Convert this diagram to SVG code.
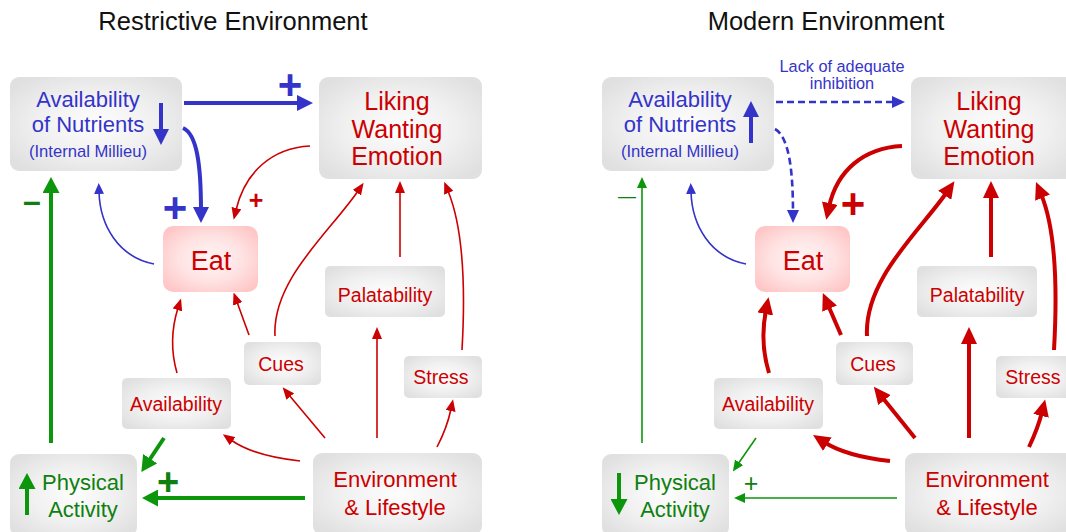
<svg xmlns="http://www.w3.org/2000/svg" width="1066" height="532" viewBox="0 0 1066 532">
<style>
  text { font-family: "Liberation Sans", Arial, sans-serif; text-anchor: middle; }
  .title { font-size: 25.5px; fill: #111; }
  .box { fill: url(#gGray); }
  .eatbox { fill: url(#gPink); }
  .blue { fill: #3434c8; }
  .red { fill: #cc0000; }
  .green { fill: #0f800f; }
  .big { font-size: 22px; }
  .lik { font-size: 25px; }
  .sm { font-size: 19.5px; }
  .tiny { font-size: 16.6px; }
  .cb { fill: none; stroke: #3434c8; }
  .cr { fill: none; stroke: #cc0000; }
  .cg { fill: none; stroke: #0c960c; }
  .thick { stroke-width: 4; }
  .thin { stroke-width: 1.6; }
  .dash { stroke-width: 2.6; stroke-dasharray: 7 4; }
</style>
<defs>
  <radialGradient id="gGray" cx="50%" cy="50%" r="62%">
    <stop offset="0%" stop-color="#fdfdfd"/>
    <stop offset="55%" stop-color="#f0f0f0"/>
    <stop offset="100%" stop-color="#e0e0e0"/>
  </radialGradient>
  <radialGradient id="gPink" cx="50%" cy="50%" r="62%">
    <stop offset="0%" stop-color="#fff6f6"/>
    <stop offset="55%" stop-color="#ffe2e2"/>
    <stop offset="100%" stop-color="#ffc6c6"/>
  </radialGradient>
  <marker id="mBB" markerUnits="userSpaceOnUse" markerWidth="16" markerHeight="16" refX="4" refY="8" orient="auto"><path d="M0,0 L16,8 L0,16 z" fill="#3434c8"/></marker>
  <marker id="mBS" markerUnits="userSpaceOnUse" markerWidth="11" markerHeight="10" refX="2" refY="5" orient="auto"><path d="M0,0 L11,5 L0,10 z" fill="#3434c8"/></marker>
  <marker id="mBD" markerUnits="userSpaceOnUse" markerWidth="13" markerHeight="12" refX="3" refY="6" orient="auto"><path d="M0,0 L13,6 L0,12 z" fill="#3434c8"/></marker>
  <marker id="mRS" markerUnits="userSpaceOnUse" markerWidth="12" markerHeight="10" refX="2" refY="5" orient="auto"><path d="M0,0 L12,5 L0,10 z" fill="#cc0000"/></marker>
  <marker id="mRB" markerUnits="userSpaceOnUse" markerWidth="17" markerHeight="16" refX="4" refY="8" orient="auto"><path d="M0,0 L17,8 L0,16 z" fill="#cc0000"/></marker>
  <marker id="mGB" markerUnits="userSpaceOnUse" markerWidth="16" markerHeight="17" refX="4" refY="8.5" orient="auto"><path d="M0,0 L16,8.5 L0,17 z" fill="#0c960c"/></marker>
  <marker id="mGS" markerUnits="userSpaceOnUse" markerWidth="11" markerHeight="10" refX="2" refY="5" orient="auto"><path d="M0,0 L11,5 L0,10 z" fill="#0c960c"/></marker>
</defs>

<text class="title" x="233" y="30">Restrictive Environment</text>
<text class="title" x="826" y="30">Modern Environment</text>

<!-- ===== Left panel nodes ===== -->
<g id="l-nutrients">
  <rect class="box" x="10" y="77" width="172" height="94" rx="9"/>
  <text class="blue big" x="88" y="107">Availability</text>
  <text class="blue big" x="88" y="132">of Nutrients</text>
  <text class="blue tiny" x="88" y="157">(Internal Millieu)</text>
  <path class="cb thick" d="M161,103 V133" marker-end="url(#mBB)"/>
</g>
<g id="l-liking">
  <rect class="box" x="319" y="77" width="163" height="102" rx="9"/>
  <text class="red lik" x="397" y="110">Liking</text>
  <text class="red lik" x="397" y="138">Wanting</text>
  <text class="red lik" x="397" y="165">Emotion</text>
</g>
<g id="l-eat">
  <rect class="eatbox" x="163" y="226" width="95" height="66" rx="10"/>
  <text class="red" style="font-size:27px" x="211" y="270">Eat</text>
</g>
<g id="l-availability">
  <rect class="box" x="122" y="378" width="109" height="51" rx="5"/>
  <text class="red sm" x="176" y="411">Availability</text>
</g>
<g id="l-cues">
  <rect class="box" x="244" y="342" width="77" height="43" rx="5"/>
  <text class="red sm" x="281" y="371">Cues</text>
</g>
<g id="l-palatability">
  <rect class="box" x="325" y="266" width="120" height="51" rx="5"/>
  <text class="red sm" x="385" y="302">Palatability</text>
</g>
<g id="l-stress">
  <rect class="box" x="404" y="356" width="78" height="42" rx="5"/>
  <text class="red sm" x="441" y="384">Stress</text>
</g>
<g id="l-environment">
  <rect class="box" x="313" y="453" width="169" height="82" rx="9"/>
  <text class="red big" x="395" y="487">Environment</text>
  <text class="red big" x="395" y="515">&amp; Lifestyle</text>
</g>
<g id="l-physical">
  <rect class="box" x="10" y="454" width="127" height="82" rx="9"/>
  <text class="green big" x="83" y="490">Physical</text>
  <text class="green big" x="83" y="517">Activity</text>
  <path class="cg thick" d="M27,515 V485" marker-end="url(#mGB)"/>
</g>

<!-- ===== Right panel nodes ===== -->
<g id="r-nutrients">
  <rect class="box" x="602" y="77" width="172" height="94" rx="9"/>
  <text class="blue big" x="680" y="107">Availability</text>
  <text class="blue big" x="680" y="132">of Nutrients</text>
  <text class="blue tiny" x="680" y="157">(Internal Millieu)</text>
  <path class="cb thick" d="M751,143 V113" marker-end="url(#mBB)"/>
</g>
<g id="r-liking">
  <rect class="box" x="911" y="77" width="163" height="102" rx="9"/>
  <text class="red lik" x="989" y="110">Liking</text>
  <text class="red lik" x="989" y="138">Wanting</text>
  <text class="red lik" x="989" y="165">Emotion</text>
</g>
<g id="r-eat">
  <rect class="eatbox" x="755" y="226" width="95" height="66" rx="10"/>
  <text class="red" style="font-size:27px" x="803" y="270">Eat</text>
</g>
<g id="r-availability">
  <rect class="box" x="714" y="378" width="109" height="51" rx="5"/>
  <text class="red sm" x="768" y="411">Availability</text>
</g>
<g id="r-cues">
  <rect class="box" x="836" y="342" width="77" height="43" rx="5"/>
  <text class="red sm" x="873" y="371">Cues</text>
</g>
<g id="r-palatability">
  <rect class="box" x="917" y="266" width="120" height="51" rx="5"/>
  <text class="red sm" x="977" y="302">Palatability</text>
</g>
<g id="r-stress">
  <rect class="box" x="996" y="356" width="78" height="42" rx="5"/>
  <text class="red sm" x="1033" y="384">Stress</text>
</g>
<g id="r-environment">
  <rect class="box" x="905" y="453" width="169" height="82" rx="9"/>
  <text class="red big" x="987" y="487">Environment</text>
  <text class="red big" x="987" y="515">&amp; Lifestyle</text>
</g>
<g id="r-physical">
  <rect class="box" x="602" y="454" width="127" height="82" rx="9"/>
  <text class="green big" x="675" y="490">Physical</text>
  <text class="green big" x="675" y="517">Activity</text>
  <path class="cg thick" d="M619,473 V503" marker-end="url(#mGB)"/>
</g>

<!-- ===== Connectors ===== -->
<g id="connectors">
  <!-- left -->
  <path class="cb thick" d="M184,103 H301" marker-end="url(#mBB)"/>
  <path class="cb thick" d="M183,128 C197,134 201,165 201,211" marker-end="url(#mBB)"/>
  <path class="cr thin" d="M310,146 C272,148 245,172 236,210" marker-end="url(#mRS)"/>
  <path class="cb thin" d="M154,264 C118,257 100,225 99,192" marker-end="url(#mBS)"/>
  <path class="cg thick" d="M51,443 V189" marker-end="url(#mGB)"/>
  <path class="cg thick" d="M164,438 L148,462" marker-end="url(#mGB)"/>
  <path class="cg thick" d="M305,498 H154" marker-end="url(#mGB)"/>
  <path class="cr thin" d="M177,373 C171,352 171,330 178,308" marker-end="url(#mRS)"/>
  <path class="cr thin" d="M249,335 L237,302" marker-end="url(#mRS)"/>
  <path class="cr thin" d="M275,336 C272,280 330,232 358,191" marker-end="url(#mRS)"/>
  <path class="cr thin" d="M400,257 V191" marker-end="url(#mRS)"/>
  <path class="cr thin" d="M462,350 C466,280 462,225 448,191" marker-end="url(#mRS)"/>
  <path class="cr thin" d="M377,438 V337" marker-end="url(#mRS)"/>
  <path class="cr thin" d="M437,447 Q447,428 451,409" marker-end="url(#mRS)"/>
  <path class="cr thin" d="M325,438 L289,395" marker-end="url(#mRS)"/>
  <path class="cr thin" d="M300,461 C272,458 248,452 231,440" marker-end="url(#mRS)"/>
  <text class="blue" style="font-size:42px;font-weight:bold" x="290" y="99">+</text>
  <text class="blue" style="font-size:42px;font-weight:bold" x="175" y="222">+</text>
  <text class="red" style="font-size:25px;font-weight:bold" x="256" y="209">+</text>
  <text class="green" style="font-size:32px;font-weight:bold" x="32" y="212">–</text>
  <text class="green" style="font-size:38px;font-weight:bold" x="168" y="495">+</text>

  <!-- right -->
  <path class="cb dash" d="M776,102 H895" marker-end="url(#mBD)"/>
  <text class="blue" style="font-size:16.3px" x="842" y="72">Lack of adequate</text>
  <text class="blue" style="font-size:16.3px" x="842" y="89">inhibition</text>
  <path class="cb dash" d="M775,129 C789,137 793,170 793,213" marker-end="url(#mBD)"/>
  <path class="cr thick" d="M902,146 C864,148 837,170 829,207" marker-end="url(#mRB)"/>
  <path class="cb thin" d="M746,264 C710,257 692,225 691,192" marker-end="url(#mBS)"/>
  <path class="cg thin" d="M642,443 V186" marker-end="url(#mGS)"/>
  <path class="cg thin" d="M756,438 L738,464" marker-end="url(#mGS)"/>
  <path class="cg thin" d="M897,498 H743" marker-end="url(#mGS)"/>
  <path class="cr thick" d="M769,373 C762,350 762,330 766,310" marker-end="url(#mRB)"/>
  <path class="cr thick" d="M841,335 L828,305" marker-end="url(#mRB)"/>
  <path class="cr thick" d="M867,336 C864,280 919,232 947,192" marker-end="url(#mRB)"/>
  <path class="cr thick" d="M991,257 V194" marker-end="url(#mRB)"/>
  <path class="cr thick" d="M1054,350 C1058,280 1054,225 1041,194" marker-end="url(#mRB)"/>
  <path class="cr thick" d="M969,438 V340" marker-end="url(#mRB)"/>
  <path class="cr thick" d="M1029,447 Q1038,428 1042,412" marker-end="url(#mRB)"/>
  <path class="cr thick" d="M915,438 L882,397" marker-end="url(#mRB)"/>
  <path class="cr thick" d="M890,461 C862,458 838,451 824,442" marker-end="url(#mRB)"/>
  <text class="red" style="font-size:42px;font-weight:bold" x="853" y="218">+</text>
  <text class="green" style="font-size:18px" x="627" y="202">—</text>
  <text class="green" style="font-size:25px" x="751" y="492">+</text>
</g>
</svg>
